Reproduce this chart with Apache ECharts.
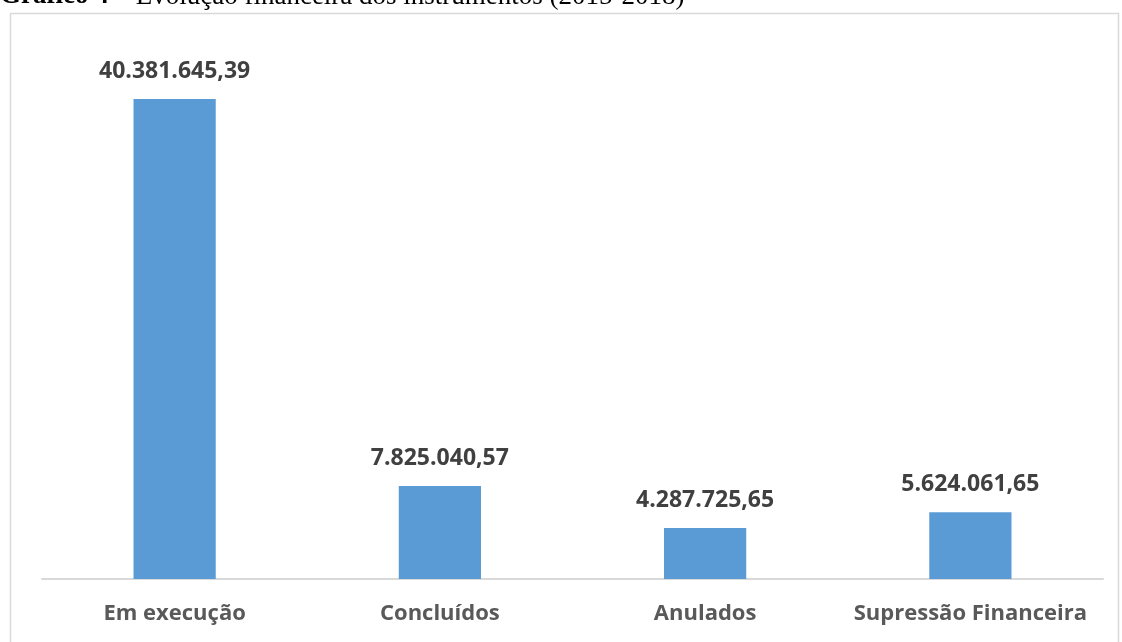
<!DOCTYPE html>
<html><head><meta charset="utf-8">
<script src="https://cdn.jsdelivr.net/npm/echarts@6/dist/echarts.min.js"></script>
<style>html,body{margin:0;padding:0;background:#fff;}#c{width:1122px;height:642px;}</style>
</head><body><div id="c"></div>
<script>
const categories = ['Em execução', 'Concluídos', 'Anulados', 'Supressão Financeira'];
const values = [40381645.39, 7825040.57, 4287725.65, 5624061.65];

function fmt(v) {
  const parts = v.toFixed(2).split('.');
  return parts[0].replace(/\B(?=(\d{3})+(?!\d))/g, '.') + ',' + parts[1];
}

const chart = echarts.init(document.getElementById('c'), null, {renderer: 'canvas'});
chart.setOption({
  animation: false,
  backgroundColor: '#ffffff',
  graphic: [
    {type: 'rect', shape: {x: 10.5, y: 13.5, width: 1108, height: 640}, style: {fill: 'none', stroke: '#d9d9d9', lineWidth: 1.5}},
    {type: 'text', left: 0, top: -17, style: {
      rich: {
        b: {fontFamily: 'Liberation Serif', fontWeight: 'bold', fontSize: 27, fill: '#000'},
        r: {fontFamily: 'Liberation Serif', fontSize: 27, fill: '#000'}
      },
      text: '{b|Gráfico 4}{r| – Evolução financeira dos instrumentos (2015-2018)}'
    }}
  ],
  grid: {left: 42, right: 19, top: 44, bottom: 63},
  xAxis: {
    type: 'category', data: categories,
    axisLine: {lineStyle: {color: '#d9d9d9', width: 2}},
    axisTick: {show: false},
    axisLabel: {interval: 0, hideOverlap: false, color: '#595959', fontFamily: 'Open Sans', fontWeight: 'bold', fontSize: 22, margin: 24}
  },
  yAxis: {type: 'value', min: 0, max: 45000000, show: false, splitLine: {show: false}},
  series: [{
    type: 'bar', data: values, barWidth: '31%',
    itemStyle: {color: '#5b9bd5'},
    label: {show: true, position: 'top', distance: 16, color: '#404040', fontFamily: 'Open Sans', fontWeight: 'bold', fontSize: 23,
      formatter: p => fmt(p.value)}
  }]
});
</script></body></html>
